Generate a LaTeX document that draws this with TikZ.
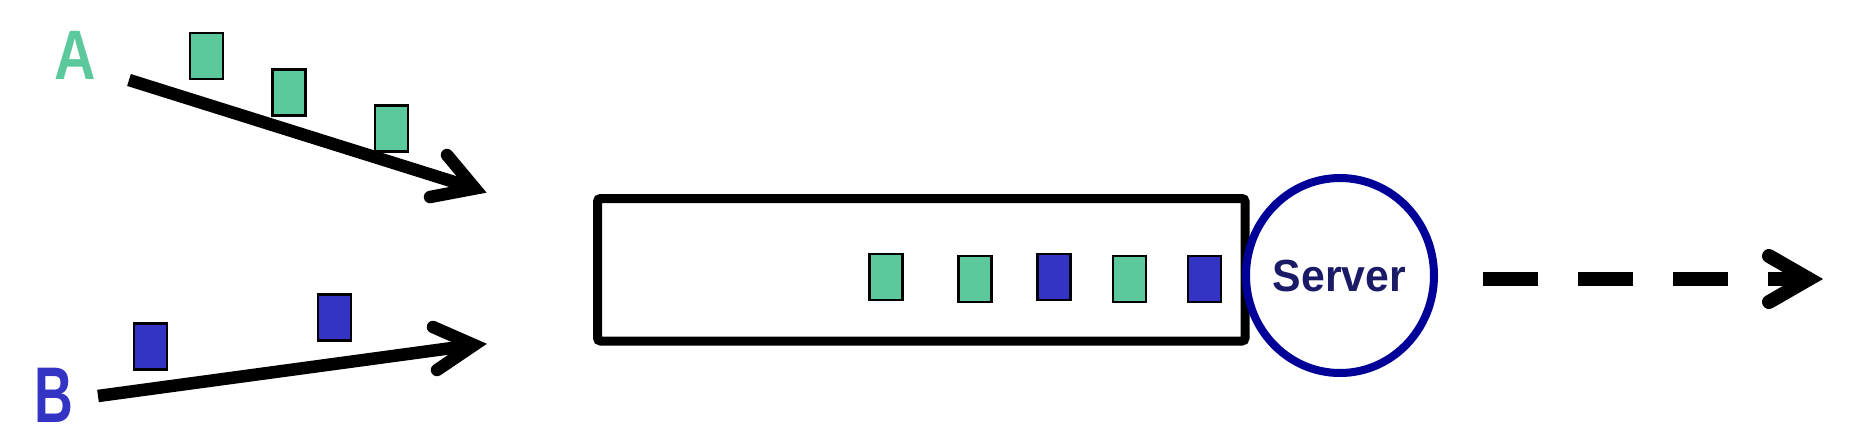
\documentclass[tikz,border=0pt]{standalone}
\usepackage{fontspec}
\setmainfont{Liberation Sans}
\usetikzlibrary{shapes.geometric}
\definecolor{pktgreen}{HTML}{5BC99B}
\definecolor{pktblue}{HTML}{3333C4}
\definecolor{servring}{HTML}{000099}
\definecolor{servtext}{HTML}{1A1A66}
\tikzset{
  pkt/.style={draw=black, line width=2.5pt, minimum width=33pt, minimum height=46pt, inner sep=0pt},
  gpkt/.style={pkt, fill=pktgreen},
  bpkt/.style={pkt, fill=pktblue},
  queuebox/.style={draw=black, line width=9pt, rounded corners=3pt, minimum width=647.5pt, minimum height=142.5pt, inner sep=0pt},
  servring/.style={ellipse, draw=servring, line width=8pt, minimum width=188pt, minimum height=195pt, inner sep=0pt},
  flowline/.style={line width=12.5pt, line cap=butt},
  chevron/.style={line width=12.5pt, line cap=round, line join=miter},
  outdash/.style={line width=14pt, line cap=butt, dash pattern=on 55pt off 40pt},
  outchev/.style={line width=14pt, line cap=round, line join=miter},
  letter/.style={inner sep=0pt, font=\bfseries}
}
\begin{document}
\begin{tikzpicture}[x=1pt, y=-1pt]
\useasboundingbox (0,0) rectangle (1872,444);
% source labels
\node[letter, text=pktgreen] (labA) at (75,55.5) {\scalebox{0.82}[1]{\fontsize{70}{70}\selectfont A}};
\node[letter, text=pktblue] (labB) at (54,395.5) {\scalebox{0.68}[1]{\fontsize{79}{79}\selectfont B}};
% queue and server
\node[queuebox] (queue) at (921.25,269.75) {};
\node[servring] (server) at (1340,275.5) {};
\node[inner sep=0pt, text=servtext, font=\bfseries\fontsize{45}{45}\selectfont] (servlab) at (1339.5,276.5) {\scalebox{0.95}[1]{Server}};
% flow A
\coordinate (aStart) at (129,80);
\coordinate (aEnd) at (475,188.5);
\coordinate (aUp) at (447,155);
\coordinate (aLo) at (430,197);
\draw[flowline] (aStart) -- (aEnd);
\draw[chevron] (aUp) -- (aEnd) -- (aLo);
% flow B
\coordinate (bStart) at (98,396);
\coordinate (bEnd) at (474,345);
\coordinate (bUp) at (433,327);
\coordinate (bLo) at (437,370);
\draw[flowline] (bStart) -- (bEnd);
\draw[chevron] (bUp) -- (bEnd) -- (bLo);
% packets of A
\node[gpkt] (a1) at (206.5,56) {};
\node[gpkt] (a2) at (289,92.5) {};
\node[gpkt] (a3) at (391.5,128.5) {};
% packets of B
\node[bpkt] (b1) at (150.5,346.5) {};
\node[bpkt] (b2) at (334.5,317.5) {};
% packets in queue
\node[gpkt] (q1) at (886,277) {};
\node[gpkt] (q2) at (975,279) {};
\node[bpkt] (q3) at (1054,277) {};
\node[gpkt] (q4) at (1129.5,279) {};
\node[bpkt] (q5) at (1204.5,279) {};
% output
\coordinate (oStart) at (1483,279);
\coordinate (oEnd) at (1809,279);
\coordinate (oUp) at (1769,256);
\coordinate (oLo) at (1769,302);
\draw[outdash] (oStart) -- (oEnd);
\draw[outchev] (oUp) -- (oEnd) -- (oLo);
\end{tikzpicture}
\end{document}
